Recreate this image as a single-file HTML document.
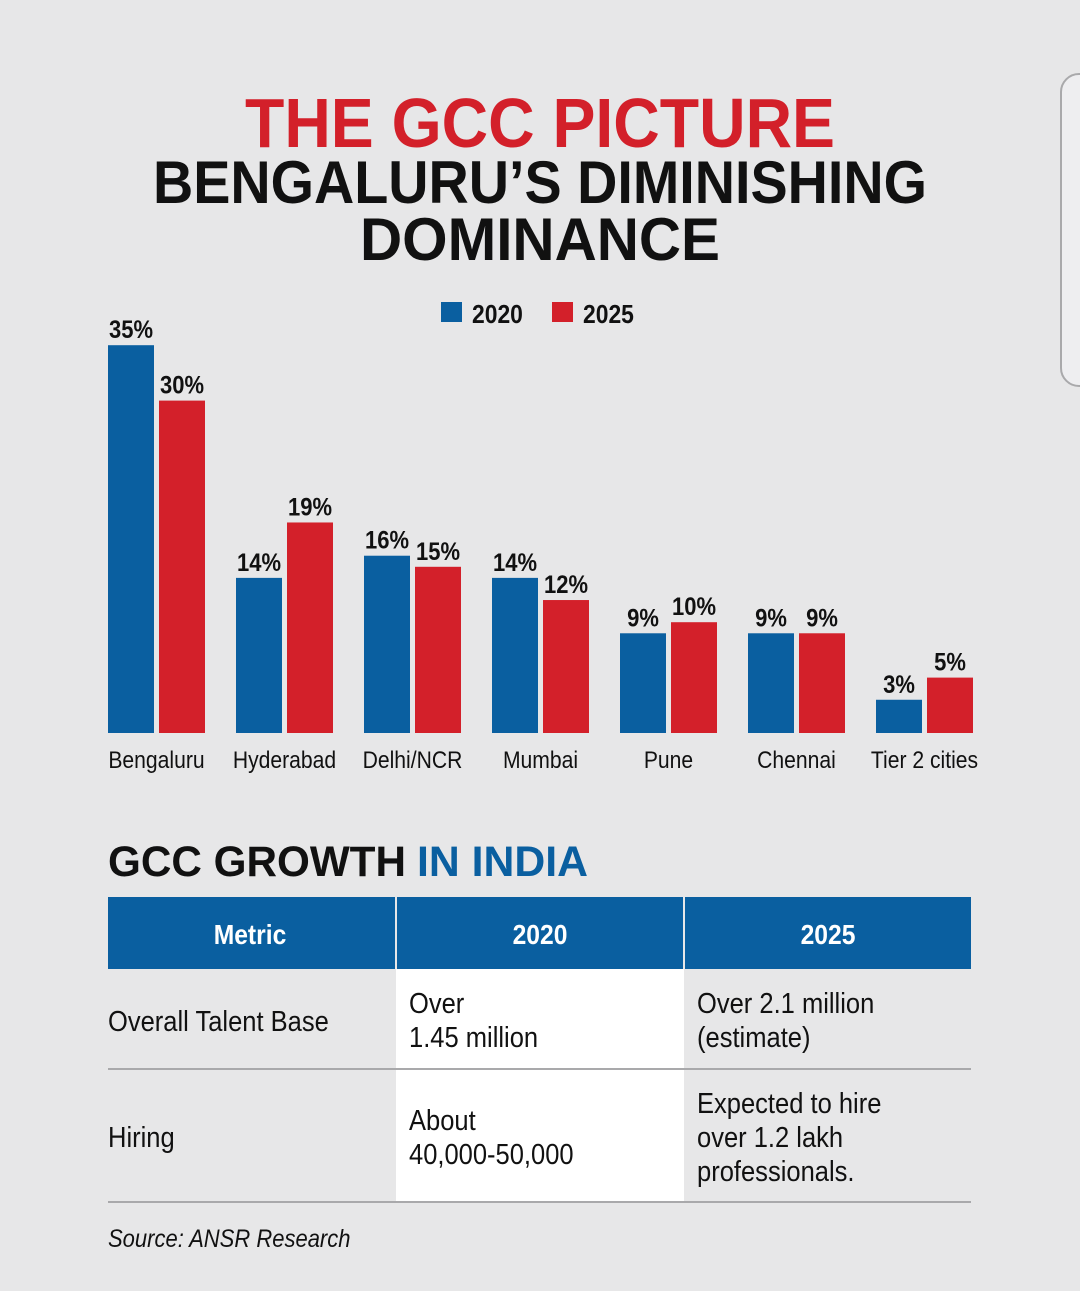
<!DOCTYPE html>
<html><head><meta charset="utf-8"><style>
html,body{margin:0;padding:0;background:#e7e7e8;}
svg{display:block;}
.n{font-family:"Liberation Sans Narrow","Liberation Sans",sans-serif;}
.w{font-family:"Liberation Sans",sans-serif;font-weight:bold;}
</style></head><body>
<svg id="c" width="1080" height="1291" viewBox="0 0 1080 1291" xmlns="http://www.w3.org/2000/svg">
<rect width="1080" height="1291" fill="#e7e7e8"/>
<rect x="1061" y="74" width="40" height="312" rx="18" fill="#eeeef0" stroke="#a9a9ab" stroke-width="2"/>
<text class="w" x="540" y="147" text-anchor="middle" font-size="70" fill="#d3202a" textLength="590" lengthAdjust="spacingAndGlyphs">THE GCC PICTURE</text>
<text class="w" x="540" y="203" text-anchor="middle" font-size="60" fill="#111" textLength="774" lengthAdjust="spacingAndGlyphs">BENGALURU’S DIMINISHING</text>
<text class="w" x="540" y="260" text-anchor="middle" font-size="60" fill="#111" textLength="360" lengthAdjust="spacingAndGlyphs">DOMINANCE</text>
<g>
<rect x="441" y="302" width="21" height="20" fill="#0a5fa0"/>
<text class="n" x="472" y="323" font-size="26" font-weight="bold" fill="#111">2020</text>
<rect x="552" y="302" width="21" height="20" fill="#d3202a"/>
<text class="n" x="583" y="323" font-size="26" font-weight="bold" fill="#111">2025</text>
</g>
<g id="bars"></g>
<text class="w" x="108" y="876" font-size="43" fill="#111" textLength="298" lengthAdjust="spacingAndGlyphs">GCC GROWTH</text>
<text class="w" x="417" y="876" font-size="43" fill="#0a5fa0" textLength="171" lengthAdjust="spacingAndGlyphs">IN INDIA</text>
<g>
<rect x="108" y="897" width="863" height="72" fill="#0a5fa0"/>
<line x1="396" y1="897" x2="396" y2="969" stroke="#e7e7e8" stroke-width="2"/>
<line x1="684" y1="897" x2="684" y2="969" stroke="#e7e7e8" stroke-width="2"/>
<text class="n" x="250" y="944" text-anchor="middle" font-size="28" font-weight="bold" fill="#fff">Metric</text>
<text class="n" x="540" y="944" text-anchor="middle" font-size="28" font-weight="bold" fill="#fff">2020</text>
<text class="n" x="828" y="944" text-anchor="middle" font-size="28" font-weight="bold" fill="#fff">2025</text>
<rect x="396" y="969" width="288" height="233" fill="#ffffff"/>
<line x1="108" y1="1069" x2="971" y2="1069" stroke="#a9a9ab" stroke-width="2"/>
<line x1="108" y1="1202" x2="971" y2="1202" stroke="#a9a9ab" stroke-width="2"/>
<g font-size="29" fill="#111">
<text class="n" x="108" y="1031">Overall Talent Base</text>
<text x="409" y="1013"><tspan class="n" x="409">Over</tspan><tspan class="n" x="409" dy="34">1.45 million</tspan></text>
<text x="697" y="1013"><tspan class="n" x="697">Over 2.1 million</tspan><tspan class="n" x="697" dy="34">(estimate)</tspan></text>
<text class="n" x="108" y="1147">Hiring</text>
<text x="409" y="1130"><tspan class="n" x="409">About</tspan><tspan class="n" x="409" dy="34">40,000-50,000</tspan></text>
<text x="697" y="1113"><tspan class="n" x="697">Expected to hire</tspan><tspan class="n" x="697" dy="34">over 1.2 lakh</tspan><tspan class="n" x="697" dy="34">professionals.</tspan></text>
</g>
</g>
<text class="n" x="108" y="1247" font-size="25" font-style="italic" fill="#111">Source: ANSR Research</text>
</svg>
<script>
const categories = ["Bengaluru","Hyderabad","Delhi/NCR","Mumbai","Pune","Chennai","Tier 2 cities"];
const values2020 = [35,14,16,14,9,9,3];
const values2025 = [30,19,15,12,10,9,5];
const NS = "http://www.w3.org/2000/svg";
const g = document.getElementById("bars");
const baseY = 733, pxPer = 11.08, x0 = 108, step = 128, bw = 46, gap = 5;
function yScale(v){ return baseY - v * pxPer; }
function xBand(i){ return x0 + i * step; }
function mk(tag, attrs){ const e = document.createElementNS(NS, tag); for (const k in attrs) e.setAttribute(k, attrs[k]); return e; }
categories.forEach((c, i) => {
  const xb = xBand(i);
  [[values2020[i], "#0a5fa0", 0, "2020"], [values2025[i], "#d3202a", bw + gap, "2025"]].forEach(([v, col, off, yr]) => {
    const r = mk("rect", {x: xb + off, y: yScale(v), width: bw, height: baseY - yScale(v), fill: col});
    
    
    g.appendChild(r);
    const t = mk("text", {x: xb + off + bw / 2, y: yScale(v) - 7, "text-anchor": "middle", "font-size": "25", "font-weight": "bold", fill: "#111", "class": "n"});
    t.textContent = v + "%";
    
    
    g.appendChild(t);
  });
  const l = mk("text", {x: xb + bw + gap / 2, y: 768, "text-anchor": "middle", "font-size": "24", fill: "#111", "class": "n"});
  l.textContent = c;
  
  
  g.appendChild(l);
});
// condense narrow-style text
document.querySelectorAll('.n').forEach(el => {
  const len = el.getComputedTextLength();
  if (len > 0) {
    el.setAttribute('textLength', (len * 0.88).toFixed(1));
    el.setAttribute('lengthAdjust', 'spacingAndGlyphs');
  }
});
</script>
</body></html>
